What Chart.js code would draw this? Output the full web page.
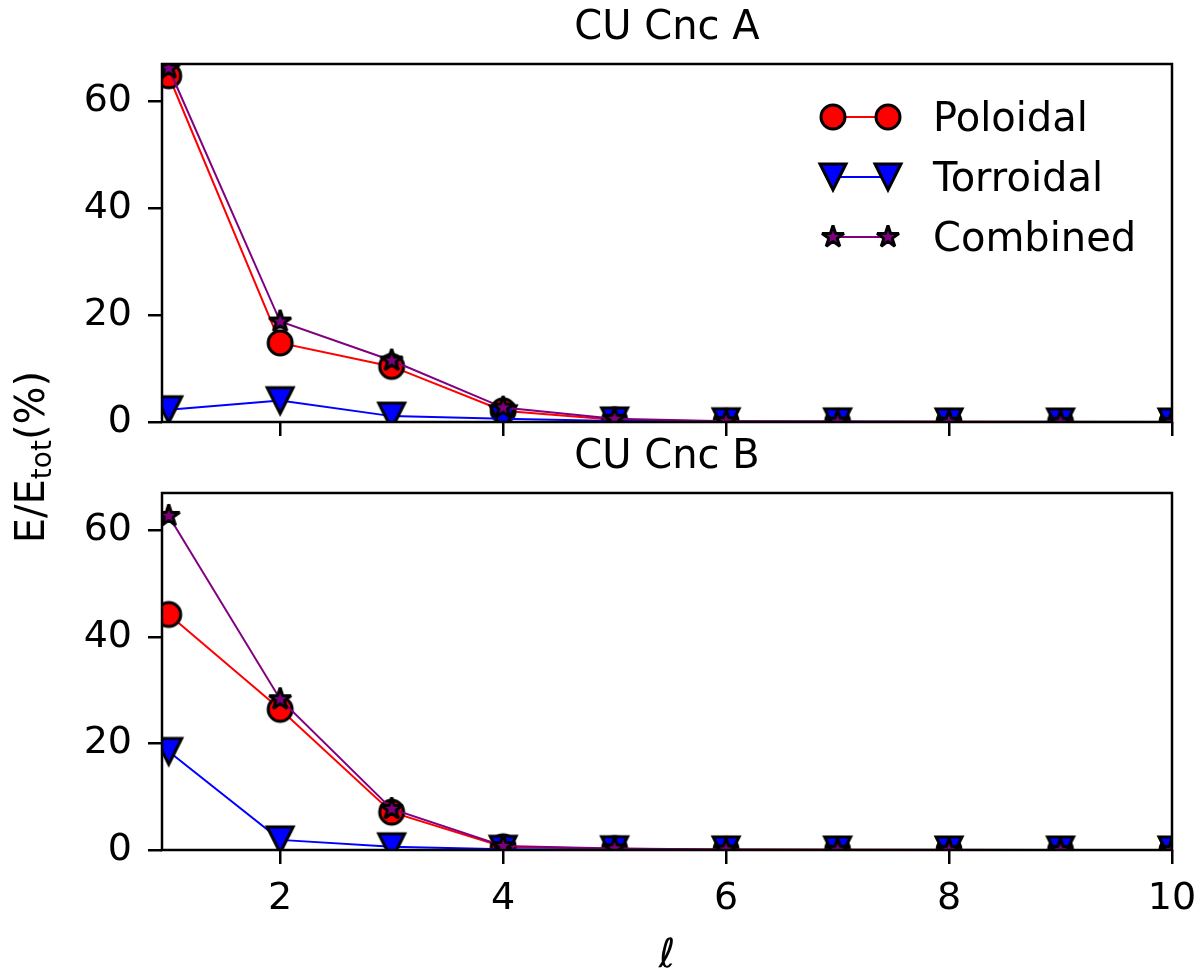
<!DOCTYPE html>
<html>
<head>
<meta charset="utf-8">
<title>CU Cnc A / B - energy fraction per degree</title>
<script src="https://cdn.jsdelivr.net/npm/chart.js@4.4.1/dist/chart.umd.min.js"></script>
<style>
    html, body { margin: 0; padding: 0; background: #fff; }
    #wrap { position: relative; width: 1200px; height: 972px; }
    #wrap canvas { position: absolute; left: 0; top: 0; }
</style>
</head>
<body>
<div id="wrap">
    <canvas id="chartB" width="1200" height="972"></canvas>
    <canvas id="chartA" width="1200" height="972"></canvas>
</div>
<script>
// Spherical harmonic degree (x axis)
const ell = [1, 2, 3, 4, 5, 6, 7, 8, 9, 10];

// CU Cnc A - energy fraction in %
const poloidalA  = [64.8, 14.8, 10.4, 2.1, 0.4, 0.1, 0.05, 0.03, 0.02, 0.01];
const torroidalA = [2.3, 4.0, 1.1, 0.6, 0.2, 0.05, 0.03, 0.02, 0.01, 0.01];
const combinedA  = [66.2, 18.8, 11.5, 2.7, 0.6, 0.15, 0.08, 0.05, 0.03, 0.02];

// CU Cnc B - energy fraction in %
const poloidalB  = [44.2, 26.4, 7.1, 0.6, 0.25, 0.08, 0.04, 0.02, 0.01, 0.01];
const torroidalB = [18.5, 1.9, 0.6, 0.15, 0.05, 0.02, 0.01, 0.01, 0.01, 0.0];
const combinedB  = [62.7, 28.3, 7.7, 0.75, 0.3, 0.1, 0.05, 0.03, 0.02, 0.01];

// Tick labels
const xTicks = [2, 4, 6, 8, 10];
const yTicks = [0, 20, 40, 60];
const seriesNames = ['Poloidal', 'Torroidal', 'Combined'];

const FONT = "'DejaVu Sans', 'Liberation Sans', sans-serif";
const LABEL_SIZE = 40;
const COLORS = {
    poloidal: '#ff0000',
    torroidal: '#0000ff',
    combined: '#800080',
    edge: '#000000'
};

/**
 * Build a marker bitmap (matplotlib-like filled marker with black edge)
 */
function makeMarker(kind, fill) {
    const c = document.createElement('canvas');
    c.width = 40;
    c.height = 40;
    const g = c.getContext('2d');
    const cx = 20, cy = 20;
    g.beginPath();
    if (kind === 'circle') {
        g.arc(cx, cy, 12, 0, Math.PI * 2);
        g.lineJoin = 'round';
    } else if (kind === 'triangle_down') {
        g.moveTo(cx - 13, cy - 13);
        g.lineTo(cx + 13, cy - 13);
        g.lineTo(cx, cy + 13);
        g.closePath();
        g.lineJoin = 'miter';
    } else if (kind === 'star') {
        const R = 11.5, r = R * 0.381966;
        for (let k = 0; k < 10; k++) {
            const ang = -Math.PI / 2 + k * Math.PI / 5;
            const rad = k % 2 === 0 ? R : r;
            const px = cx + rad * Math.cos(ang), py = cy + rad * Math.sin(ang);
            if (k === 0) g.moveTo(px, py); else g.lineTo(px, py);
        }
        g.closePath();
        g.lineJoin = 'bevel';
    }
    g.fillStyle = fill;
    g.fill();
    g.lineWidth = 3;
    g.strokeStyle = COLORS.edge;
    g.stroke();
    return c;
}

const MARKERS = {
    poloidal: makeMarker('circle', COLORS.poloidal),
    torroidal: makeMarker('triangle_down', COLORS.torroidal),
    combined: makeMarker('star', COLORS.combined)
};

function toPoints(values) {
    return values.map((v, i) => ({ x: ell[i], y: v }));
}

function makeDataset(label, values, key, order) {
    return {
        label: label,
        data: toPoints(values),
        borderColor: COLORS[key],
        borderWidth: 2,
        pointStyle: MARKERS[key],
        pointRadius: 13,
        pointHoverRadius: 13,
        tension: 0,
        fill: false,
        order: order
    };
}

/**
 * Legend with two markers joined by a line, like matplotlib's numpoints=2
 */
function drawLegend(chart) {
    const ctx = chart.ctx;
    const keys = ['poloidal', 'torroidal', 'combined'];
    const rows = [117, 177, 237];
    chart.data.datasets.forEach((ds, i) => {
        const key = keys[i];
        const y = rows[i];
        ctx.save();
        ctx.strokeStyle = COLORS[key];
        ctx.lineWidth = 2;
        ctx.beginPath();
        ctx.moveTo(833, y);
        ctx.lineTo(888, y);
        ctx.stroke();
        [833, 888].forEach(x => ctx.drawImage(MARKERS[key], x - 20, y - 20));
        ctx.fillStyle = '#000';
        ctx.font = `${LABEL_SIZE}px ${FONT}`;
        ctx.textAlign = 'left';
        ctx.textBaseline = 'alphabetic';
        ctx.fillText(ds.label, 933, y + 14);
        ctx.restore();
    });
}

/**
 * Shared axis labels (drawn once, on the lower panel)
 */
function drawAxisLabels(chart) {
    const ctx = chart.ctx;
    ctx.save();
    ctx.fillStyle = '#000';
    ctx.textBaseline = 'alphabetic';

    // x label
    ctx.font = `italic ${LABEL_SIZE}px ${FONT}`;
    ctx.textAlign = 'center';
    ctx.fillText('ℓ', 667, 967);

    // y label E/E_tot(%)
    const big = `${LABEL_SIZE}px ${FONT}`, small = `28px ${FONT}`;
    ctx.font = big;
    const w1 = ctx.measureText('E/E').width;
    const w3 = ctx.measureText('(%)').width;
    ctx.font = small;
    const w2 = ctx.measureText('tot').width;
    const total = w1 + w2 + w3;
    ctx.translate(44, 457);
    ctx.rotate(-Math.PI / 2);
    ctx.textAlign = 'left';
    let x = -total / 2;
    ctx.font = big;
    ctx.fillText('E/E', x, 0);
    x += w1;
    ctx.font = small;
    ctx.fillText('tot', x, 7);
    x += w2;
    ctx.font = big;
    ctx.fillText('(%)', x, 0);
    ctx.restore();
}

function panelPlugin(cfg) {
    return {
        id: 'panel',
        afterDatasetsDraw(chart) {
            const { ctx, chartArea: a } = chart;
            ctx.save();
            ctx.strokeStyle = '#000';
            ctx.lineWidth = 2.5;
            ctx.strokeRect(a.left, a.top, a.right - a.left, a.bottom - a.top);
            ctx.restore();
        },
        afterDraw(chart) {
            const { ctx, chartArea: a } = chart;
            ctx.save();
            ctx.fillStyle = '#000';
            ctx.font = `${LABEL_SIZE}px ${FONT}`;
            ctx.textAlign = 'center';
            ctx.textBaseline = 'alphabetic';
            ctx.fillText(cfg.title, (a.left + a.right) / 2, a.top - 25);
            ctx.restore();
            if (cfg.legend) drawLegend(chart);
            if (cfg.axisLabels) drawAxisLabels(chart);
        }
    };
}

/**
 * Create one panel
 */
function createPanel(canvasId, cfg) {
    const ctx = document.getElementById(canvasId);
    return new Chart(ctx, {
        type: 'line',
        data: {
            datasets: [
                makeDataset(seriesNames[0], cfg.poloidal, 'poloidal', 2),
                makeDataset(seriesNames[1], cfg.torroidal, 'torroidal', 1),
                makeDataset(seriesNames[2], cfg.combined, 'combined', 0)
            ]
        },
        options: {
            responsive: false,
            animation: false,
            devicePixelRatio: 1,
            events: [],
            layout: { padding: cfg.padding },
            plugins: {
                legend: { display: false },
                title: { display: false },
                tooltip: { enabled: false }
            },
            scales: {
                x: {
                    type: 'linear',
                    min: 0.94,
                    max: 10,
                    afterBuildTicks: s => { s.ticks = xTicks.map(v => ({ value: v })); },
                    afterFit: s => {
                        s.height = cfg.xAxisHeight;
                        s.paddingLeft = 0;
                        s.paddingRight = 0;
                    },
                    ticks: {
                        display: cfg.xLabels,
                        color: '#000',
                        font: { family: FONT, size: 38 },
                        padding: 12,
                        maxRotation: 0,
                        autoSkip: false
                    },
                    grid: {
                        drawOnChartArea: false,
                        drawTicks: true,
                        tickLength: 14,
                        color: '#000',
                        lineWidth: 2.5
                    },
                    border: { display: false }
                },
                y: {
                    type: 'linear',
                    min: 0,
                    max: 67,
                    afterBuildTicks: s => { s.ticks = yTicks.map(v => ({ value: v })); },
                    afterFit: s => {
                        s.width = 162;
                        s.paddingTop = 0;
                        s.paddingBottom = 0;
                    },
                    ticks: {
                        color: '#000',
                        font: { family: FONT, size: 38 },
                        padding: 16
                    },
                    grid: {
                        drawOnChartArea: false,
                        drawTicks: true,
                        tickLength: 14,
                        color: '#000',
                        lineWidth: 2.5
                    },
                    border: { display: false }
                }
            }
        },
        plugins: [panelPlugin(cfg)]
    });
}

document.addEventListener('DOMContentLoaded', () => {
    createPanel('chartB', {
        title: 'CU Cnc B',
        poloidal: poloidalB,
        torroidal: torroidalB,
        combined: combinedB,
        padding: { top: 493, right: 28, bottom: 0, left: 0 },
        xAxisHeight: 122,
        xLabels: true,
        legend: false,
        axisLabels: true
    });
    createPanel('chartA', {
        title: 'CU Cnc A',
        poloidal: poloidalA,
        torroidal: torroidalA,
        combined: combinedA,
        padding: { top: 64, right: 28, bottom: 972 - 422 - 30, left: 0 },
        xAxisHeight: 30,
        xLabels: false,
        legend: true,
        axisLabels: false
    });
});
</script>
</body>
</html>
